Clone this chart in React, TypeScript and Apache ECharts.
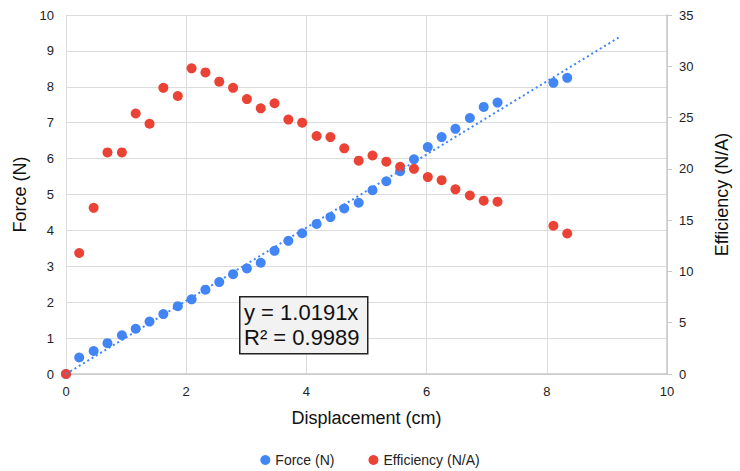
import React, { useEffect, useRef } from "react";
import * as echarts from "echarts";

const displacement = [0, 0.22, 0.46, 0.69, 0.93, 1.16, 1.39, 1.62, 1.86, 2.09, 2.32, 2.55, 2.78, 3.01, 3.24, 3.47, 3.70, 3.93, 4.17, 4.40, 4.63, 4.87, 5.10, 5.33, 5.56, 5.79, 6.02, 6.25, 6.48, 6.72, 6.95, 7.18, 8.11, 8.34];
const force = [0, 0.46, 0.64, 0.86, 1.08, 1.26, 1.46, 1.67, 1.89, 2.08, 2.35, 2.56, 2.78, 2.94, 3.10, 3.43, 3.71, 3.92, 4.18, 4.37, 4.61, 4.77, 5.12, 5.37, 5.65, 5.98, 6.32, 6.60, 6.83, 7.13, 7.44, 7.56, 8.11, 8.25];
const efficiency = [0, 11.8, 16.2, 21.6, 21.6, 25.4, 24.4, 27.9, 27.1, 29.8, 29.4, 28.5, 27.9, 26.8, 25.9, 26.4, 24.8, 24.5, 23.2, 23.1, 22.0, 20.8, 21.3, 20.7, 20.2, 20.0, 19.2, 18.9, 18.0, 17.4, 16.9, 16.8, 14.45, 13.7];
const slope = 1.0191;
const trendRange = [0, 9.22];
const equationLines = ["y = 1.0191x", "R² = 0.9989"];

const FONT = "'Liberation Sans', Arial, sans-serif";

export default function App() {
  const ref = useRef<HTMLDivElement>(null);
  useEffect(() => {
    if (!ref.current) return;
    const chart = echarts.init(ref.current, null, { renderer: "svg" });
    const trend = trendRange.map((x) => [x, slope * x]);
    chart.setOption({
      animation: false,
      textStyle: { fontFamily: FONT },
      grid: { left: 66, right: 73, top: 15, bottom: 97, containLabel: false },
      legend: {
        data: ["Force (N)", "Efficiency (N/A)"],
        top: 448,
        left: "center",
        icon: "circle",
        itemWidth: 10,
        itemHeight: 10,
        itemGap: 34,
        textStyle: { fontFamily: FONT, fontSize: 14, color: "#222" },
      },
      xAxis: {
        type: "value",
        min: 0,
        max: 10,
        interval: 2,
        name: "Displacement (cm)",
        nameLocation: "middle",
        nameGap: 35,
        nameTextStyle: { fontFamily: FONT, fontSize: 18, color: "#111" },
        axisLine: { show: true, lineStyle: { color: "#c8c8c8", width: 1.5 } },
        axisTick: { show: false },
        axisLabel: { fontFamily: FONT, fontSize: 13, color: "#222", margin: 11 },
        splitLine: { show: true, lineStyle: { color: "#dcdcdc", width: 1 } },
      },
      yAxis: [
        {
          type: "value",
          min: 0,
          max: 10,
          interval: 1,
          name: "Force (N)",
          nameLocation: "middle",
          nameGap: 31,
          nameTextStyle: { fontFamily: FONT, fontSize: 18, color: "#111" },
          axisLine: { show: false },
          axisTick: { show: false },
          axisLabel: { fontFamily: FONT, fontSize: 13, color: "#222", margin: 12 },
          splitLine: { show: true, lineStyle: { color: "#dcdcdc", width: 1 } },
        },
        {
          type: "value",
          position: "right",
          min: 0,
          max: 35,
          interval: 5,
          name: "Efficiency (N/A)",
          nameLocation: "middle",
          nameGap: 46,
          nameTextStyle: { fontFamily: FONT, fontSize: 18, color: "#111" },
          axisLine: { show: true, lineStyle: { color: "#c8c8c8", width: 1.5 } },
          axisTick: { show: true, length: 5, lineStyle: { color: "#c8c8c8" } },
          axisLabel: { fontFamily: FONT, fontSize: 13, color: "#222", margin: 12 },
          splitLine: { show: false },
        },
      ],
      series: [
        {
          name: "Force (N)",
          type: "scatter",
          yAxisIndex: 0,
          symbol: "circle",
          symbolSize: 10,
          itemStyle: { color: "#4285F4", opacity: 1 },
          data: displacement.map((x, i) => [x, force[i]]),
          z: 2,
        },
        {
          name: "Efficiency (N/A)",
          type: "scatter",
          yAxisIndex: 1,
          symbol: "circle",
          symbolSize: 10,
          itemStyle: { color: "#EA4335", opacity: 1 },
          data: displacement.map((x, i) => [x, efficiency[i]]),
          z: 3,
        },
        {
          name: "Trendline",
          type: "line",
          yAxisIndex: 0,
          showSymbol: false,
          symbol: "none",
          lineStyle: { color: "#4285F4", width: 2, type: [2, 3] },
          data: trend,
          z: 4,
        },
      ],
      graphic: [
        {
          type: "rect",
          left: 239,
          top: 296,
          z: 100,
          shape: { x: 0, y: 0, width: 128, height: 57 },
          style: { fill: "#f2f2f2", stroke: "#222", lineWidth: 1.5 },
        },
        {
          type: "text",
          left: 244,
          top: 300,
          z: 101,
          style: {
            text: equationLines.join("\n"),
            fontFamily: FONT,
            fontSize: 22,
            lineHeight: 25,
            fill: "#111",
          },
        },
      ],
    });
    return () => chart.dispose();
  }, []);
  return (
    <div
      ref={ref}
      style={{ position: "absolute", left: 0, top: 0, width: 740, height: 471 }}
    />
  );
}
